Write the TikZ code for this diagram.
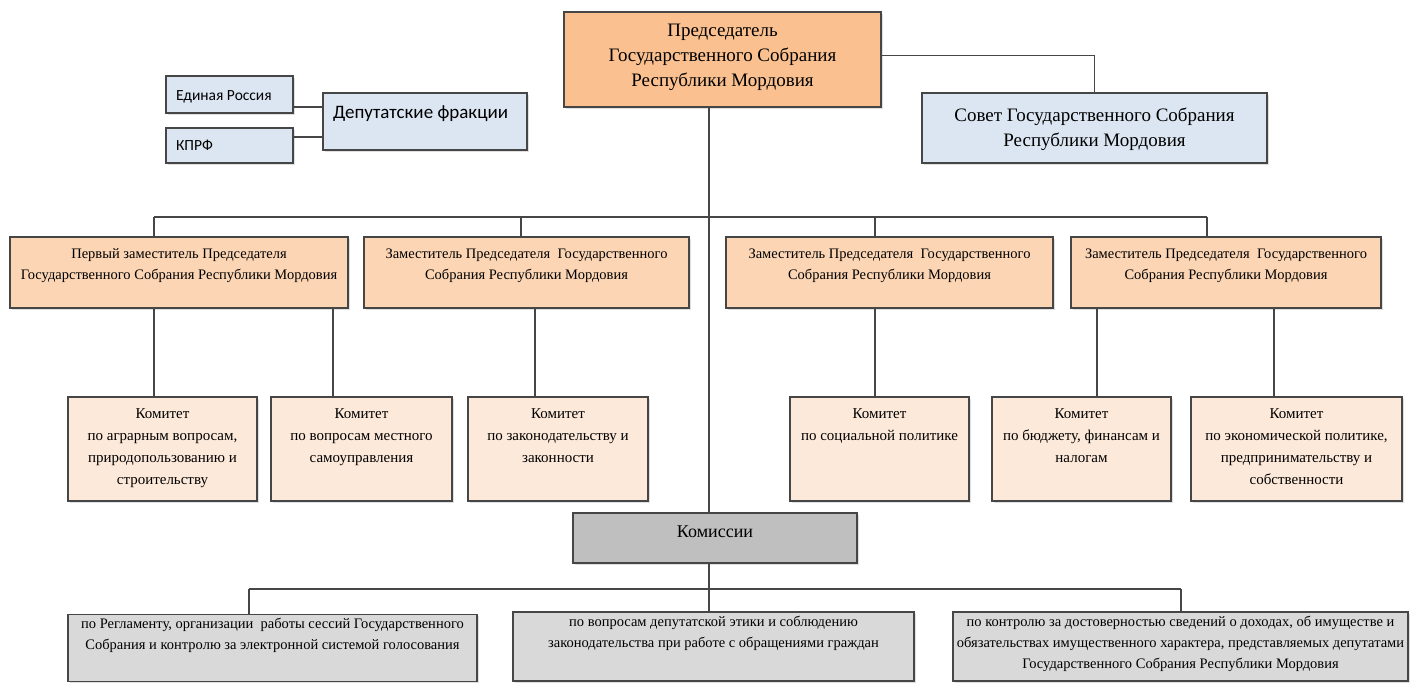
\documentclass[tikz,border=0pt]{standalone}
\usepackage{fontspec}
\setmainfont{Liberation Serif}
\newfontfamily\calibri{Carlito}
\usetikzlibrary{shadows}

\definecolor{chairfill}{RGB}{250,192,143}
\definecolor{depfill}{RGB}{252,213,180}
\definecolor{komfill}{RGB}{253,233,217}
\definecolor{bluefill}{RGB}{220,230,242}
\definecolor{grayfill}{RGB}{191,191,191}
\definecolor{lgrayfill}{RGB}{217,217,217}
\definecolor{edgegray}{RGB}{70,70,70}

\newcommand{\fbig}{\fontsize{19}{25}\selectfont}
\newcommand{\fdep}{\fontsize{14.5}{21}\selectfont}
\newcommand{\fkom}{\fontsize{15}{22}\selectfont}
\newcommand{\fsub}{\fontsize{14.5}{21}\selectfont}

% box text: width, height, first baseline, lines
\newcommand{\boxtxt}[4]{\parbox[c][#2][t]{#1}{\centering\rule{0pt}{#3}#4}}
\newcommand{\lefttxt}[4]{\parbox[c][#2][t]{#1}{\hspace*{10pt}\rule{0pt}{#3}#4}}

\begin{document}
\begin{tikzpicture}[x=1pt,y=-1pt,
    box/.style={draw=edgegray, line width=1.4pt, inner sep=0pt, fill=#1,
      drop shadow={shadow xshift=1.5pt, shadow yshift=-1.5pt, opacity=0.25}},
    link/.style={draw=edgegray, line width=1.2pt}]
  \useasboundingbox (0,0) rectangle (1412,683);

  % top
  \node[box=chairfill, font=\fbig] (chair) at (722.5,59.5)
    {\boxtxt{317pt}{95pt}{24pt}{Председатель\\Государственного Собрания\\Республики Мордовия}};
  \node[box=bluefill, font=\fbig] (sovet) at (1094.5,128)
    {\boxtxt{345pt}{70pt}{28pt}{Совет Государственного Собрания\\Республики Мордовия}};

  % fractions
  \node[box=bluefill, font=\calibri\fontsize{15.5}{18}\selectfont] (ep) at (229.5,94.5)
    {\lefttxt{127pt}{37pt}{24pt}{Единая Россия}};
  \node[box=bluefill, font=\calibri\fontsize{15.5}{18}\selectfont] (kprf) at (229.5,145.5)
    {\lefttxt{127pt}{35pt}{22pt}{КПРФ}};
  \node[box=bluefill, font=\calibri\fontsize{19}{23}\selectfont] (frac) at (425,121.5)
    {\lefttxt{204pt}{57pt}{25pt}{Депутатские фракции}};

  % deputies
  \node[box=depfill, font=\fdep] (d1) at (179,272.5)
    {\boxtxt{338pt}{71pt}{21pt}{Первый заместитель Председателя\\Государственного Собрания Республики Мордовия}};
  \node[box=depfill, font=\fdep] (d2) at (526.5,272.5)
    {\boxtxt{325pt}{71pt}{21pt}{Заместитель Председателя\ \ Государственного\\Собрания Республики Мордовия}};
  \node[box=depfill, font=\fdep] (d3) at (889.5,272.5)
    {\boxtxt{327pt}{71pt}{21pt}{Заместитель Председателя\ \ Государственного\\Собрания Республики Мордовия}};
  \node[box=depfill, font=\fdep] (d4) at (1226,272.5)
    {\boxtxt{310pt}{71pt}{21pt}{Заместитель Председателя\ \ Государственного\\Собрания Республики Мордовия}};

  % committees
  \node[box=komfill, font=\fkom] (c1) at (162.5,449)
    {\boxtxt{189pt}{104pt}{21pt}{Комитет\\по аграрным вопросам,\\природопользованию и\\строительству}};
  \node[box=komfill, font=\fkom] (c2) at (361.5,449)
    {\boxtxt{181pt}{104pt}{21pt}{Комитет\\по вопросам местного\\самоуправления}};
  \node[box=komfill, font=\fkom] (c3) at (558,449)
    {\boxtxt{180pt}{104pt}{21pt}{Комитет\\по законодательству и\\законности}};
  \node[box=komfill, font=\fkom] (c4) at (879.5,449)
    {\boxtxt{179pt}{104pt}{21pt}{Комитет\\по социальной политике}};
  \node[box=komfill, font=\fkom] (c5) at (1081.5,449)
    {\boxtxt{179pt}{104pt}{21pt}{Комитет\\по бюджету, финансам и\\налогам}};
  \node[box=komfill, font=\fkom] (c6) at (1296.5,449)
    {\boxtxt{211pt}{104pt}{21pt}{Комитет\\по экономической политике,\\предпринимательству и\\собственности}};

  % commissions
  \node[box=grayfill, font=\fontsize{18}{22}\selectfont] (kom) at (715,538)
    {\boxtxt{284pt}{50pt}{24pt}{Комиссии}};
  \node[box=lgrayfill, font=\fsub] (k1) at (272.5,648)
    {\boxtxt{409pt}{67pt}{14pt}{по Регламенту, организации\ \ работы сессий Государственного\\Собрания и контролю за электронной системой голосования}};
  \node[box=lgrayfill, font=\fsub] (k2) at (713.5,646.5)
    {\boxtxt{401pt}{69pt}{14pt}{по вопросам депутатской этики и соблюдению\\законодательства при работе с обращениями граждан}};
  \node[box=lgrayfill, font=\fsub] (k3) at (1180.5,646.5)
    {\boxtxt{455pt}{69pt}{14pt}{по контролю за достоверностью сведений о доходах, об имуществе и\\обязательствах имущественного характера, представляемых депутатами\\Государственного Собрания Республики Мордовия}};

  % links
  \coordinate (tr) at (709,0);
  \draw[link] (tr |- chair.south) -- (tr |- kom.north);
  \draw[link] (tr |- kom.south) -- (tr |- k2.north);
  \coordinate (chr) at ([yshift=4pt]chair.east);
  \draw[link] (chr) -| (sovet.north);

  \coordinate (epr) at ([yshift=-12.5pt]ep.east);
  \coordinate (kpr) at ([yshift=8.5pt]kprf.east);
  \draw[link] (epr) -- (epr -| frac.west);
  \draw[link] (kpr) -- (kpr -| frac.west);

  \coordinate (b1) at (154,217);
  \coordinate (b2) at (521,217);
  \coordinate (b3) at (875,217);
  \coordinate (b4) at (1207,217);
  \draw[link] (b1) -- (b4);
  \foreach \b/\d in {b1/d1, b2/d2, b3/d3, b4/d4}
    \draw[link] (\b) -- (\b |- \d.north);

  \foreach \n/\x in {1/154, 2/333, 3/535, 4/875, 5/1097, 6/1274}
    \coordinate (t\n) at (\x,0);
  \foreach \t/\d/\c in {t1/d1/c1, t2/d1/c2, t3/d2/c3, t4/d3/c4, t5/d4/c5, t6/d4/c6}
    \draw[link] (\t |- \d.south) -- (\t |- \c.north);

  \coordinate (kb1) at (249,589);
  \coordinate (kb3) at (1181,589);
  \draw[link] (kb1) -- (kb3);
  \draw[link] (kb1) -- (kb1 |- k1.north);
  \draw[link] (kb3) -- (kb3 |- k3.north);
\end{tikzpicture}
\end{document}
